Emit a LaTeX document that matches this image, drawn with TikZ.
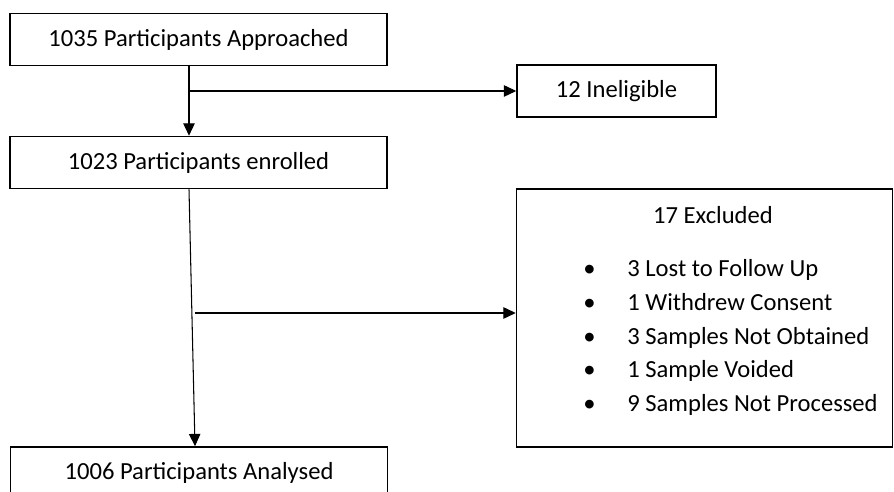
\documentclass[tikz,border=0pt]{standalone}
\usepackage{fontspec}
\setmainfont{Carlito}
\usetikzlibrary{arrows.meta, positioning, calc}

\begin{document}
\begin{tikzpicture}[x=0.02cm, y=-0.02cm,
  box/.style={draw, line width=0.9pt, rectangle, minimum width=7.54cm,
              minimum height=1.04cm, inner sep=0pt, font=\fontsize{14}{17}\selectfont},
  arr/.style={-{Triangle[length=7pt,width=6.5pt]}, line width=0.6pt},
  lbl/.style={font=\fontsize{14}{19.3}\selectfont, align=left, inner sep=0pt}
]
\clip (0,0) rectangle (894,492);
\fill[white] (0,0) rectangle (894,492);
\node[box] (appr) at (198.5,39.5) {1035 Participants Approached};
\node[box] (enrl) at (198.5,162.5) {1023 Participants enrolled};
\node[box] (anal) at (199,473) {1006 Participants Analysed};
\node[box, minimum width=3.98cm] (inel) at (616.5,91) {12 Ineligible};
\node[box, minimum width=7.52cm, minimum height=5.16cm] (excl) at (704.5,318) {};
\node[lbl] (exclt) at (713,215) {17 Excluded};
\node[lbl, anchor=west] (excll) at (583,337.5) {%
  \makebox[0.88cm][l]{•}3 Lost to Follow Up\\
  \makebox[0.88cm][l]{•}1 Withdrew Consent\\
  \makebox[0.88cm][l]{•}3 Samples Not Obtained\\
  \makebox[0.88cm][l]{•}1 Sample Voided\\
  \makebox[0.88cm][l]{•}9 Samples Not Processed};

\coordinate (j1) at (189,91);
\coordinate (j2) at (195,313);
\draw[arr] (appr.south -| j1)--(enrl.north -| j1);
\draw[arr] (j1)--(j1 -| inel.west);
\draw[arr] ($(enrl.south)+(-9.5,0)$)--($(anal.north)+(-4,0)$);
\draw[arr] (j2)--(j2 -| excl.west);
\end{tikzpicture}
\end{document}
